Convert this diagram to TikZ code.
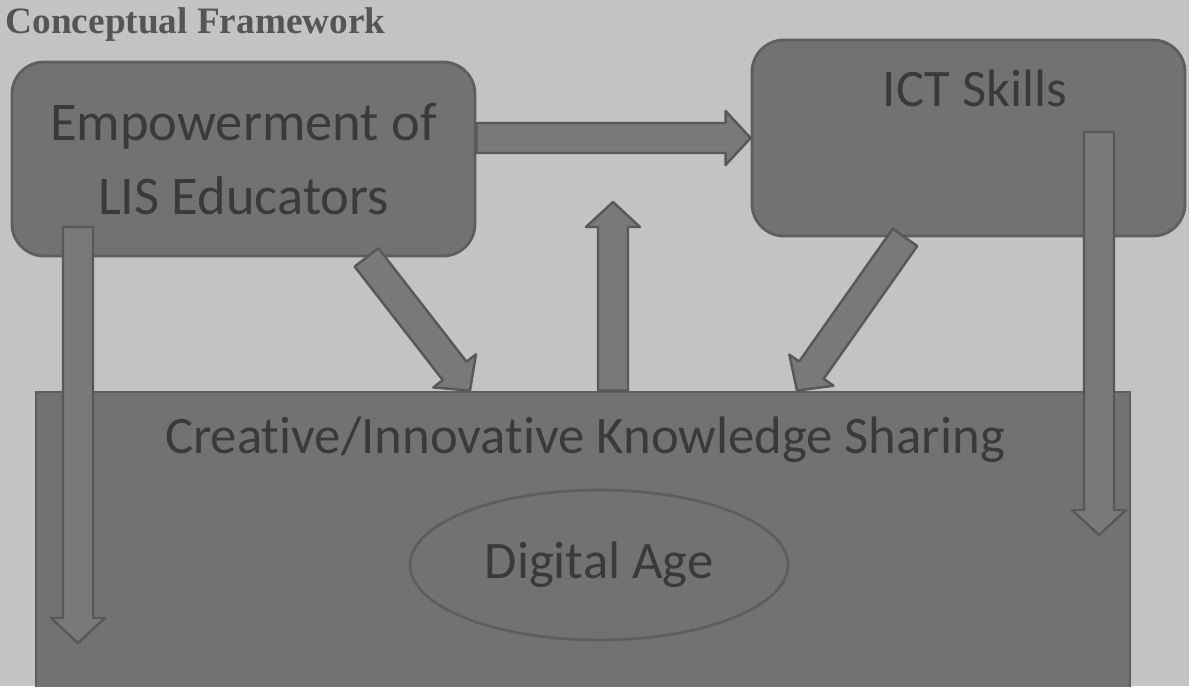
\documentclass[tikz,border=0pt]{standalone}
\usepackage{fontspec}
\setmainfont{Carlito}[Ligatures=NoCommon]
\newfontfamily\headfont{Liberation Serif}
\usetikzlibrary{positioning,calc,shapes.geometric}

\definecolor{paper}{HTML}{C4C3C1}
\definecolor{boxfill}{HTML}{737272}
\definecolor{boxedge}{HTML}{5E5E5E}
\definecolor{arrowfill}{HTML}{7A7979}
\definecolor{arrowedge}{HTML}{585858}
\definecolor{ink}{HTML}{3A3A3A}
\definecolor{titleink}{HTML}{555555}

\begin{document}
\begin{tikzpicture}[
    box/.style={draw=boxedge, fill=boxfill, line width=0.8pt, inner sep=0pt},
    boxtext/.style={text=ink, font=\fontsize{15}{18}\selectfont},
    % fat block arrow from start to target
    blockarrow/.style={draw=arrowedge, fill=arrowfill, line width=0.7pt, line join=round,
      to path={let \p1=(\tikztostart), \p2=(\tikztotarget),
        \n1={atan2(\y2-\y1,\x2-\x1)} in
        ($(\p1)+({\n1+90}:1.5mm)$)
        -- ($(\p2)+({\n1+180}:2.5mm)+({\n1+90}:1.5mm)$)
        -- ($(\p2)+({\n1+180}:2.5mm)+({\n1+90}:2.7mm)$)
        -- (\p2)
        -- ($(\p2)+({\n1+180}:2.5mm)+({\n1-90}:2.7mm)$)
        -- ($(\p2)+({\n1+180}:2.5mm)+({\n1-90}:1.5mm)$)
        -- ($(\p1)+({\n1-90}:1.5mm)$) -- cycle}}
  ]
  \useasboundingbox (0,0) rectangle (11.89,-6.86);
  \clip (0,0) rectangle (11.89,-6.86);
  \fill[paper] (0,0) rectangle (11.89,-6.86);

  \node[anchor=west, text=titleink, inner sep=0pt,
    font=\headfont\bfseries\fontsize{10.6}{12}\selectfont] (title) at (0.05,-0.25) {Conceptual Framework};

  % the three boxes
  \node[box, rounded corners=0.32cm, minimum width=4.63cm, minimum height=1.94cm,
    align=center, boxtext, font=\fontsize{15.5}{20.8}\selectfont] (emp) at (2.435,-1.59)
    {Empowerment of\\LIS Educators};
  \node[box, rounded corners=0.32cm, minimum width=4.33cm, minimum height=1.96cm] (ict) at (9.685,-1.38) {};
  \node[boxtext] (ictlabel) at (9.75,-0.88) {ICT Skills};
  \node[box, minimum width=10.94cm, minimum height=3.3cm] (share) at (5.83,-5.57) {};
  \node[boxtext] (sharelabel) at (5.85,-4.40) {Creative/Innovative Knowledge Sharing};
  \node[ellipse, draw=boxedge, line width=0.8pt, minimum width=3.78cm, minimum height=1.5cm,
    boxtext] (age) at (5.99,-5.65) {Digital Age};

  % free ends of the arrows
  \coordinate (upend) at (6.13,-2.02);
  \coordinate (leftstart) at (0.78,-2.27);
  \coordinate (leftend) at (0.78,-6.43);
  \coordinate (rightstart) at (10.99,-1.32);
  \coordinate (rightend) at (10.99,-5.35);

  \draw[blockarrow] (emp.east |- ict.west) to (ict.west);
  \draw[blockarrow] ([xshift=1.23cm]emp.south) to ([xshift=-1.13cm]share.north);
  \draw[blockarrow] ([xshift=-0.635cm]ict.south) to ([xshift=2.14cm]share.north);
  \draw[blockarrow] ([xshift=0.30cm]share.north) to (upend);
  \draw[blockarrow] (leftstart) to (leftend);
  \draw[blockarrow] (rightstart) to (rightend);
\end{tikzpicture}
\end{document}
